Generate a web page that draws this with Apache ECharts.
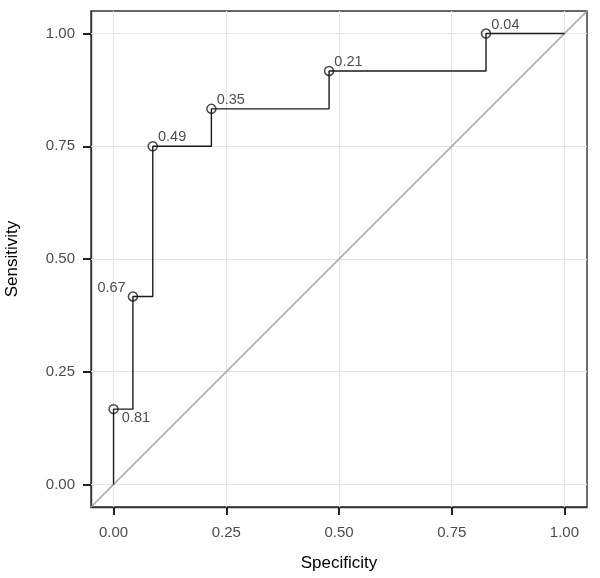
<!DOCTYPE html>
<html>
<head>
<meta charset="utf-8">
<script src="https://cdn.jsdelivr.net/npm/echarts@6/dist/echarts.min.js"></script>
<style>html,body{margin:0;padding:0;background:#fff;}#c{width:600px;height:578px;}</style>
</head>
<body>
<div id="c"></div>
<script>
// ROC points (x labelled "Specificity", y "Sensitivity") with threshold labels
const pointX = [0, 0.043, 0.087, 0.217, 0.478, 0.826];
const pointY = [0.167, 0.417, 0.75, 0.833, 0.917, 1.0];
const thresholds = ['0.81', '0.67', '0.49', '0.35', '0.21', '0.04'];
// Step curve vertices
const curveX = [0, 0, 0.043, 0.087, 0.217, 0.478, 0.826, 1];
const curveY = [0, 0.167, 0.417, 0.75, 0.833, 0.917, 1, 1];
// Reference diagonal
const diagX = [-0.05, 1.05];
const diagY = [-0.05, 1.05];
const tickValues = [0, 0.25, 0.5, 0.75, 1];
const axisMin = -0.05, axisMax = 1.05;

const labelPlace = {
  '0.81': {position: 'right', offset: [0, 9]},
  '0.67': {position: 'left', offset: [1, -8]},
  '0.49': {position: 'right', offset: [-3, -9]},
  '0.35': {position: 'right', offset: [-3, -9]},
  '0.21': {position: 'right', offset: [-3, -9]},
  '0.04': {position: 'right', offset: [-3, -9]}
};

const fontFam = '"Liberation Sans", Arial, sans-serif';
const chart = echarts.init(document.getElementById('c'), null, {renderer: 'canvas'});

function axisCfg(name, gap, margin) {
  return {
    type: 'value', min: axisMin, max: axisMax,
    name: name, nameLocation: 'middle', nameGap: gap,
    nameTextStyle: {color: '#000', fontSize: 17, fontFamily: fontFam},
    axisLine: {show: true, onZero: false, lineStyle: {color: '#333', width: 1.4}},
    axisTick: {show: true, inside: false, length: 8, lineStyle: {color: '#222', width: 2}, customValues: tickValues},
    axisLabel: {show: true, customValues: tickValues, color: '#4d4d4d', fontSize: 15, fontFamily: fontFam, margin: margin,
      formatter: v => Number(v).toFixed(2)},
    splitLine: {show: false}
  };
}

const gridLineData = tickValues.map(v => ({xAxis: v})).concat(tickValues.map(v => ({yAxis: v})));

chart.setOption({
  animation: false,
  backgroundColor: '#fff',
  grid: {left: 91, right: 13, top: 11, bottom: 71, outerBoundsMode: 'none', containLabel: false, show: true, borderColor: '#333', borderWidth: 1.4, backgroundColor: 'transparent'},
  xAxis: axisCfg('Specificity', 48, 18),
  yAxis: axisCfg('Sensitivity', 70, 16),
  series: [
    {
      type: 'line', data: [], silent: true, z: 1,
      markLine: {silent: true, symbol: 'none', z: 1, label: {show: false},
        lineStyle: {color: '#e6e6e6', width: 1.1, type: 'solid'}, data: gridLineData}
    },
    {
      type: 'line', data: diagX.map((x, i) => [x, diagY[i]]), showSymbol: false, silent: true, z: 3,
      lineStyle: {color: '#a0a0a0', width: 1.4}
    },
    {
      type: 'line', step: 'end', data: curveX.map((x, i) => [x, curveY[i]]), showSymbol: false, silent: true, z: 4,
      lineStyle: {color: '#1a1a1a', width: 1.4}
    },
    {
      type: 'scatter', symbol: 'circle', symbolSize: 9, silent: true, z: 5,
      itemStyle: {color: 'rgba(0,0,0,0)', borderColor: '#1a1a1a', borderWidth: 1.5},
      data: pointX.map((x, i) => ({
        value: [x, pointY[i]],
        label: Object.assign({show: true, formatter: thresholds[i], color: '#222', fontSize: 14.5, fontFamily: fontFam, distance: 3}, labelPlace[thresholds[i]])
      }))
    }
  ]
});
</script>
</body>
</html>
